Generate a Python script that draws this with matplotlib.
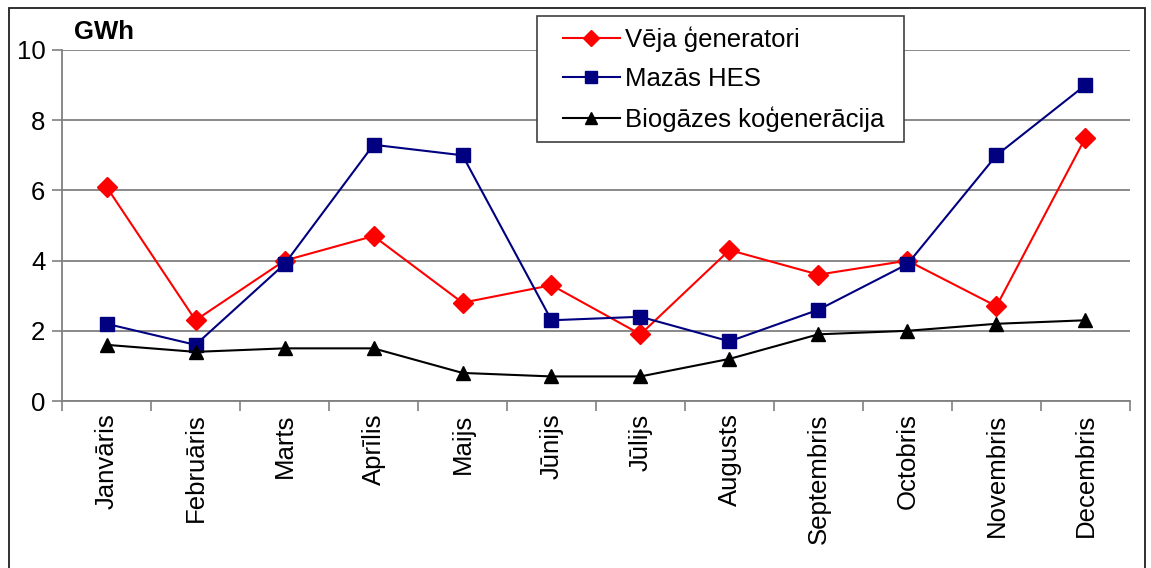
import matplotlib.pyplot as plt
from matplotlib.patches import Rectangle

months = ['Janvāris', 'Februāris', 'Marts', 'Aprīlis', 'Maijs', 'Jūnijs',
          'Jūlijs', 'Augusts', 'Septembris', 'Octobris', 'Novembris', 'Decembris']
vejs = [6.1, 2.3, 4.0, 4.7, 2.8, 3.3, 1.9, 4.3, 3.6, 4.0, 2.7, 7.5]
hes = [2.2, 1.6, 3.9, 7.3, 7.0, 2.3, 2.4, 1.7, 2.6, 3.9, 7.0, 9.0]
biogaze = [1.6, 1.4, 1.5, 1.5, 0.8, 0.7, 0.7, 1.2, 1.9, 2.0, 2.2, 2.3]
yticks = [0, 2, 4, 6, 8, 10]


def plot():
    plt.rcParams['font.family'] = ['Liberation Sans', 'DejaVu Sans']
    W, H = 1151, 568
    fig = plt.figure(figsize=(W / 100, H / 100), dpi=100)
    ax = fig.add_axes([0.0539, 0.294, 0.9278, 0.618])

    x = list(range(len(months)))
    ax.plot(x, vejs, color='#ff0000', lw=1.5, marker='D', ms=10,
            label='Vēja ģeneratori', zorder=3)
    ax.plot(x, hes, color='#000080', lw=1.5, marker='s', ms=9.5,
            label='Mazās HES', zorder=3)
    ax.plot(x, biogaze, color='black', lw=1.5, marker='^', ms=10.5,
            label='Biogāzes koģenerācija', zorder=3)

    ax.set_xlim(-0.5, len(months) - 0.5)
    ax.set_ylim(0, 10)
    ax.set_yticks(yticks)
    ax.set_xticks(x)
    ax.set_xticklabels(months, rotation=90)
    ax.set_xticks([i + 0.5 for i in range(-1, len(months))], minor=True)
    ax.tick_params(axis='x', which='major', length=0, pad=9, labelsize=18.5)
    ax.tick_params(axis='x', which='minor', length=7, width=1.2, color='#808080')
    ax.tick_params(axis='y', length=7, width=1.2, color='#808080', labelsize=18.5,
                   pad=5)

    ax.grid(axis='y', color='#808080', lw=1.3, zorder=1)
    for side in ['top', 'right']:
        ax.spines[side].set_visible(False)
    for side in ['left', 'bottom']:
        ax.spines[side].set_color('#808080')
        ax.spines[side].set_linewidth(1.3)

    fig.text(0.064, 0.944, 'GWh', fontsize=18.5, fontweight='bold', va='center')

    # legend frame drawn separately to get the wide left padding
    ax.add_patch(Rectangle((537 / W, 1 - 142 / H), 367 / W, 126 / H,
                           transform=fig.transFigure, clip_on=False,
                           facecolor='white', edgecolor='#404040', lw=1.2,
                           zorder=4))
    leg = ax.legend(loc='upper left', bbox_to_anchor=(563 / W, 1 - 26 / H),
                    bbox_transform=fig.transFigure, fontsize=18.5, frameon=False,
                    handlelength=2.2, labelspacing=0.6, borderpad=0,
                    borderaxespad=0, handletextpad=0.2)
    leg.set_zorder(5)
    for h in leg.legend_handles:
        h.set_markersize(8)

    fig.patches.append(Rectangle((9 / W, -0.1), 1136 / W, 1.086,
                                 transform=fig.transFigure, fill=False,
                                 edgecolor='#202020', lw=1.3))

    plt.savefig('out.png', dpi=100)


if __name__ == '__main__':
    plot()
